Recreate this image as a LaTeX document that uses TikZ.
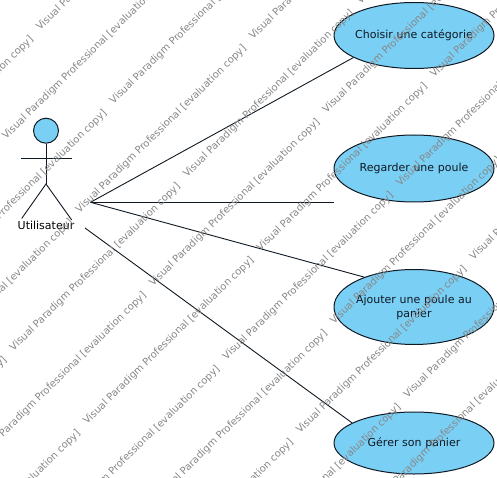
\documentclass[tikz,border=0pt]{standalone}
\usepackage{fontspec}
\setmainfont{DejaVu Sans}
\usetikzlibrary{shapes.geometric}
\definecolor{ucblue}{RGB}{122,207,245}
\definecolor{inkdark}{RGB}{15,25,35}
\tikzset{
  x=1pt,y=-1pt,
  usecase/.style={ellipse,draw=inkdark,fill=ucblue,line width=1pt,inner xsep=-12pt,inner ysep=-8pt,minimum width=160pt,
    text width=125pt,text height=10pt,text depth=3pt,align=center,font=\fontsize{11pt}{14pt}\selectfont,text=inkdark},
  link/.style={draw=inkdark,line width=0.9pt},
  actorline/.style={draw=inkdark,line width=0.9pt},
  actorhead/.style={circle,draw=inkdark,fill=ucblue,line width=1pt,inner sep=0pt,minimum size=25pt},
  actorlabel/.style={font=\fontsize{11pt}{12pt}\selectfont,text=black,inner sep=0pt},
  mark wm/.style={rotate=44.5,anchor=base west,inner sep=0pt,text=black!47,font=\fontsize{10pt}{11pt}\selectfont}
}
\begin{document}
\begin{tikzpicture}
\useasboundingbox (0,0) rectangle (497,478);
\begin{scope}
\clip (0,0) rectangle (497,478);
\fill[white] (0,0) rectangle (497,478);
% actor
\node[actorhead] (head) at (46,130.7) {};
\coordinate (hip) at (46,184);
\coordinate (armL) at (21.3,158.3);
\coordinate (armR) at (71.7,158.3);
\coordinate (legL) at (21.7,218.5);
\coordinate (legR) at (71.7,220);
\draw[actorline] (head.south) -- (hip);
\draw[actorline] (armL) -- (armR);
\draw[actorline] (legL) -- (hip) -- (legR);
\node[actorlabel] (actor) at (46,225) {Utilisateur};
\coordinate (actorE) at (90.5,202.3);
\coordinate (actorS) at (85,228);
% use cases
\node[usecase,minimum height=66pt] (choisir) at (414,35.5) {Choisir une catégorie};
\node[usecase,minimum height=67pt] (regarder) at (414,168.5) {Regarder une poule};
\node[usecase,minimum height=75pt,text depth=17pt] (ajouter) at (414,307) {Ajouter une poule au\\panier};
\node[usecase,minimum height=62pt] (gerer) at (414,443) {Gérer son panier};
% connectors
\draw[link] (actorE) -- (choisir.200);
\draw[link] (actorE) -- (actorE -| regarder.west);
\draw[link] (actorE) -- (ajouter.149.5);
\draw[link] (actorS) -- (gerer.162.6);
% watermark
\foreach \k in {-2,...,5}{
  \foreach \m in {-2,...,3}{
    \node[mark wm] (wma-\k-\m) at ({40+73.5*\k+173.5*\m},{31+73.5*\k-173.5*\m}) {Visual Paradigm Professional [evaluation copy]};
    \node[mark wm] (wmb-\k-\m) at ({6+73.5*\k+173.5*\m},{140+73.5*\k-173.5*\m}) {Visual Paradigm Professional [evaluation copy]};
  }
}
\end{scope}
\end{tikzpicture}
\end{document}
